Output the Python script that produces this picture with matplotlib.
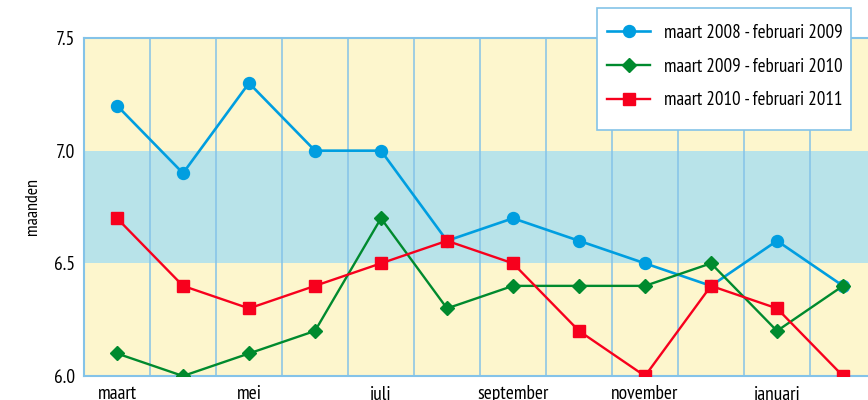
import matplotlib
matplotlib.use("Agg")
import matplotlib.pyplot as plt
from matplotlib.patches import Rectangle

months = ["maart", "april", "mei", "juni", "juli", "augustus", "september",
          "oktober", "november", "december", "januari", "februari"]
tick_labels = ["maart", "", "mei", "", "juli", "", "september", "", "november", "", "januari", ""]
s2008 = [7.2, 6.9, 7.3, 7.0, 7.0, 6.6, 6.7, 6.6, 6.5, 6.4, 6.6, 6.4]
s2009 = [6.1, 6.0, 6.1, 6.2, 6.7, 6.3, 6.4, 6.4, 6.4, 6.5, 6.2, 6.4]
s2010 = [6.7, 6.4, 6.3, 6.4, 6.5, 6.6, 6.5, 6.2, 6.0, 6.4, 6.3, 6.0]
labels = ["maart 2008 - februari 2009", "maart 2009 - februari 2010", "maart 2010 - februari 2011"]
yticks = [6.0, 6.5, 7.0, 7.5]

plt.rcParams['font.family'] = ['PT Sans Narrow', 'DejaVu Sans']

W, H = 868, 400
fig = plt.figure(figsize=(W/100, H/100), dpi=100)
left, right, top, bottom = 84, 876, 38, 376
ax = fig.add_axes([left/W, 1-bottom/H, (right-left)/W, (bottom-top)/H])

x = list(range(len(months)))
ax.set_xlim(-0.5, len(months)-0.5)
ax.set_ylim(6.0, 7.5)

ax.axhspan(6.0, 6.5, color="#fdf6cd", zorder=0, lw=0)
ax.axhspan(6.5, 7.0, color="#b8e3e9", zorder=0, lw=0)
ax.axhspan(7.0, 7.5, color="#fdf6cd", zorder=0, lw=0)
for i in range(len(months)-1):
    ax.axvline(i+0.5, color="#84c3e8", lw=1.1, zorder=1)

for sp in ax.spines.values():
    sp.set_color("#84c3e8")
    sp.set_linewidth(1.5)

ax.plot(x, s2008, color="#009ee0", lw=1.9, marker="o", ms=8.6, label=labels[0], zorder=3)
ax.plot(x, s2009, color="#008a2e", lw=1.7, marker="D", ms=6.8, label=labels[1], zorder=3)
ax.plot(x, s2010, color="#f7001d", lw=1.7, marker="s", ms=8, label=labels[2], zorder=3)

ax.set_yticks(yticks)
ax.set_yticklabels([f"{v:.1f}" for v in yticks], fontsize=14)
ax.set_xticks(x)
ax.set_xticklabels(tick_labels, fontsize=14)
ax.tick_params(length=0, pad=6.5)
ax.set_ylabel("maanden", fontsize=13, labelpad=9)

# legend frame
fig.patches.append(Rectangle((597/W, 1-130/H), (851-597)/W, (130-8)/H,
                             transform=fig.transFigure, facecolor="white",
                             edgecolor="#84c3e8", lw=1.2, zorder=10))
handles, labs = ax.get_legend_handles_labels()
leg = fig.legend(handles, labs, loc="upper left", bbox_to_anchor=(607/W, 1-24/H),
                 frameon=False, fontsize=13.7, borderpad=0, labelspacing=0.82,
                 handlelength=2.26, handletextpad=0.74, borderaxespad=0)
leg.set_zorder(11)

fig.savefig("out.png", dpi=100)
